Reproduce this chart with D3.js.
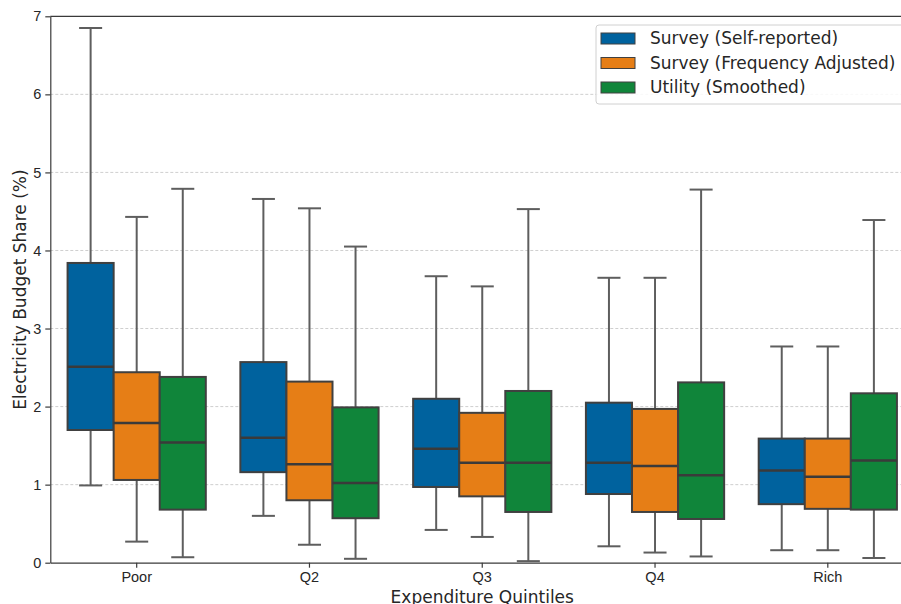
<!DOCTYPE html>
<html>
<head>
<meta charset="utf-8">
<script src="https://cdn.jsdelivr.net/npm/d3@7"></script>
<style>
  body { margin: 0; background: #fff; }
  svg { font-family: "DejaVu Sans", sans-serif; }
  .axis path, .axis line { stroke: #3a3a3a; stroke-width: 1.2; }
  .axis text { font-size: 14.5px; fill: #262626; }
  .grid line { stroke: #cfcfcf; stroke-width: 1; stroke-dasharray: 3,2; }
  .whisker { stroke: #5e5e5e; stroke-width: 2; }
  .box { stroke: #404040; stroke-width: 2; }
  .median { stroke: #3a3a3a; stroke-width: 2.5; }
  .axis-label { font-size: 17px; fill: #262626; }
  .legend text { font-size: 17px; fill: #262626; }
</style>
</head>
<body>
<div id="chart"></div>
<script>
// quintiles on the x axis
const categories = ['Poor', 'Q2', 'Q3', 'Q4', 'Rich'];
const seriesNames = ['Survey (Self-reported)', 'Survey (Frequency Adjusted)', 'Utility (Smoothed)'];
const seriesColors = ['#00629e', '#e67e16', '#10853a'];
const yTicks = [0, 1, 2, 3, 4, 5, 6, 7];

// [lower whisker, q1, median, q3, upper whisker] per quintile
const selfReported = [
  [0.99, 1.70, 2.51, 3.84, 6.85],
  [0.60, 1.16, 1.60, 2.57, 4.66],
  [0.42, 0.97, 1.46, 2.10, 3.67],
  [0.21, 0.88, 1.28, 2.05, 3.65],
  [0.16, 0.75, 1.18, 1.59, 2.77]
];
const frequencyAdjusted = [
  [0.27, 1.06, 1.79, 2.44, 4.43],
  [0.23, 0.80, 1.26, 2.32, 4.54],
  [0.33, 0.85, 1.28, 1.92, 3.54],
  [0.13, 0.65, 1.24, 1.97, 3.65],
  [0.16, 0.69, 1.10, 1.59, 2.77]
];
const utilitySmoothed = [
  [0.07, 0.68, 1.54, 2.38, 4.79],
  [0.05, 0.57, 1.02, 1.99, 4.05],
  [0.02, 0.65, 1.28, 2.20, 4.53],
  [0.08, 0.56, 1.12, 2.31, 4.78],
  [0.06, 0.68, 1.31, 2.17, 4.39]
];
const seriesValues = [selfReported, frequencyAdjusted, utilitySmoothed];

const config = {
  width: 901,
  height: 604,
  plot: { left: 50.3, right: 914.2, top: 16.3, bottom: 562.7 },  // right edge runs off the canvas
  groupWidth: 0.8,
  capRatio: 0.5
};

const svg = d3.select('#chart').append('svg')
  .attr('width', config.width)
  .attr('height', config.height);

const xScale = d3.scaleBand()
  .domain(categories)
  .range([config.plot.left, config.plot.right])
  .padding(0);
const hueScale = d3.scaleBand()
  .domain(seriesNames)
  .range([0, xScale.bandwidth() * config.groupWidth])
  .padding(0);
const yScale = d3.scaleLinear()
  .domain([0, 7])
  .range([config.plot.bottom, config.plot.top]);

// grid
svg.append('g')
  .attr('class', 'grid')
  .selectAll('line')
  .data(yTicks.filter(t => t > 0 && t < 7))
  .join('line')
  .attr('x1', config.plot.left)
  .attr('x2', config.plot.right)
  .attr('y1', d => yScale(d))
  .attr('y2', d => yScale(d));

// boxes
const groupOffset = xScale.bandwidth() * (1 - config.groupWidth) / 2;
const boxW = hueScale.bandwidth();

seriesNames.forEach((name, si) => {
  const g = svg.append('g').attr('class', 'series');
  seriesValues[si].forEach((v, ci) => {
    const x0 = xScale(categories[ci]) + groupOffset + hueScale(name);
    const cx = x0 + boxW / 2;
    const capHalf = boxW * config.capRatio / 2;
    const [lo, q1, med, q3, hi] = v;

    g.append('line').attr('class', 'whisker')
      .attr('x1', cx).attr('x2', cx)
      .attr('y1', yScale(q3)).attr('y2', yScale(hi));
    g.append('line').attr('class', 'whisker')
      .attr('x1', cx).attr('x2', cx)
      .attr('y1', yScale(q1)).attr('y2', yScale(lo));
    g.append('line').attr('class', 'whisker')
      .attr('x1', cx - capHalf).attr('x2', cx + capHalf)
      .attr('y1', yScale(hi)).attr('y2', yScale(hi));
    g.append('line').attr('class', 'whisker')
      .attr('x1', cx - capHalf).attr('x2', cx + capHalf)
      .attr('y1', yScale(lo)).attr('y2', yScale(lo));

    g.append('rect').attr('class', 'box')
      .attr('x', x0)
      .attr('y', yScale(q3))
      .attr('width', boxW)
      .attr('height', yScale(q1) - yScale(q3))
      .attr('fill', seriesColors[si]);
    g.append('line').attr('class', 'median')
      .attr('x1', x0).attr('x2', x0 + boxW)
      .attr('y1', yScale(med)).attr('y2', yScale(med));
  });
});

// axes
svg.append('g')
  .attr('class', 'axis axis-x')
  .attr('transform', `translate(0, ${config.plot.bottom})`)
  .call(d3.axisBottom(xScale).tickSizeInner(5).tickSizeOuter(0).tickPadding(4));
svg.append('g')
  .attr('class', 'axis axis-y')
  .attr('transform', `translate(${config.plot.left}, 0)`)
  .call(d3.axisLeft(yScale).tickValues(yTicks).tickFormat(d3.format('d')).tickSizeInner(5).tickSizeOuter(0).tickPadding(4));
svg.append('line')
  .attr('x1', config.plot.left).attr('x2', config.plot.right)
  .attr('y1', config.plot.top).attr('y2', config.plot.top)
  .attr('stroke', '#3a3a3a').attr('stroke-width', 1.2);

svg.append('text')
  .attr('class', 'axis-label')
  .attr('x', (config.plot.left + config.plot.right) / 2)
  .attr('y', 603)
  .attr('text-anchor', 'middle')
  .text('Expenditure Quintiles');
svg.append('text')
  .attr('class', 'axis-label')
  .attr('transform', `translate(26, ${(config.plot.top + config.plot.bottom) / 2}) rotate(-90)`)
  .attr('text-anchor', 'middle')
  .text('Electricity Budget Share (%)');

// legend
const legend = svg.append('g')
  .attr('class', 'legend')
  .attr('transform', 'translate(596, 25)');
legend.append('rect')
  .attr('width', 312).attr('height', 79)
  .attr('rx', 3)
  .attr('fill', 'rgba(255,255,255,0.85)')
  .attr('stroke', '#d0d0d0');
seriesNames.forEach((name, i) => {
  const row = legend.append('g').attr('transform', `translate(5, ${8 + i * 24.5})`);
  row.append('rect')
    .attr('width', 34).attr('height', 11)
    .attr('fill', seriesColors[i])
    .attr('stroke', '#404040').attr('stroke-width', 1);
  row.append('text')
    .attr('x', 49).attr('y', 5.5)
    .attr('dy', '0.35em')
    .text(name);
});
</script>
</body>
</html>
